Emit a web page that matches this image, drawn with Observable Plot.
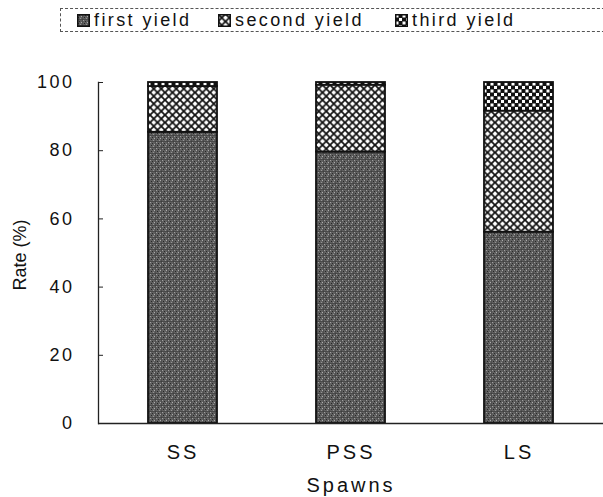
<!DOCTYPE html>
<html>
<head>
<meta charset="utf-8">
<script src="https://cdn.jsdelivr.net/npm/d3@7"></script>
<script src="https://cdn.jsdelivr.net/npm/@observablehq/plot@0.6"></script>
<style>
  html, body { margin: 0; padding: 0; background: #fff; }
  body { width: 603px; height: 497px; overflow: hidden; font-family: "Liberation Sans", Arial, sans-serif; }
  #legend { position: relative; height: 40px; }
  #legend .box { position: absolute; left: 60px; top: 8px; width: 560px; height: 24px; border: 1px dashed #555; box-sizing: border-box; }
  #legend .item { position: absolute; top: 11px; font-size: 18px; letter-spacing: 2.4px; line-height: 18px; color: #111; display: flex; align-items: center; }
  #legend svg { margin-right: 4px; }
  #chart svg text { fill: #111; }
  #chart g[aria-label="x-axis tick label"] text { letter-spacing: 3px; font-size: 20px; }
  #chart g[aria-label="y-axis tick label"] text { letter-spacing: 2.5px; font-size: 18px; }
</style>
</head>
<body>
<div id="legend"></div>
<div id="chart"></div>
<script>
const categories = ["SS", "PSS", "LS"];
const seriesNames = ["first yield", "second yield", "third yield"];
const firstYield = [85.4, 79.6, 56.1];
const secondYield = [13.4, 19.6, 35.5];
const thirdYield = [1.2, 0.8, 8.4];
const yTicks = [0, 20, 40, 60, 80, 100];
const xTitle = "Spawns";
const yTitle = "Rate (%)";

const patternIds = ["pat-first", "pat-second", "pat-third"];
const defsMarkup = `
<pattern id="pat-first" width="6" height="6" patternUnits="userSpaceOnUse">
  <rect width="6" height="6" fill="#606060"/>
  <rect x="0" y="0" width="1" height="1" fill="#a0a0a0"/>
  <rect x="2" y="1" width="1" height="1" fill="#2a2a2a"/>
  <rect x="4" y="2" width="1" height="1" fill="#acacac"/>
  <rect x="1" y="3" width="1" height="1" fill="#262626"/>
  <rect x="3" y="4" width="1" height="1" fill="#949494"/>
  <rect x="5" y="5" width="1" height="1" fill="#333"/>
  <rect x="0" y="5" width="6" height="0.6" fill="#3a3a3a"/>
  <rect x="5" y="0" width="0.6" height="6" fill="#444"/>
</pattern>
<pattern id="pat-second" width="7.5" height="7.5" patternUnits="userSpaceOnUse">
  <rect width="7.5" height="7.5" fill="#fff"/>
  <path d="M-1,-1 L8.5,8.5 M8.5,-1 L-1,8.5" stroke="#111" stroke-width="1.8"/>
</pattern>
<pattern id="pat-third" width="7" height="7" patternUnits="userSpaceOnUse">
  <rect width="7" height="7" fill="#111"/>
  <rect x="0.5" y="0.5" width="3" height="3" fill="#fff"/>
  <rect x="4" y="4" width="3" height="3" fill="#fff"/>
</pattern>`;

const rows = [];
categories.forEach((c, i) => {
  rows.push({spawn: c, series: seriesNames[0], value: firstYield[i]});
  rows.push({spawn: c, series: seriesNames[1], value: secondYield[i]});
  rows.push({spawn: c, series: seriesNames[2], value: thirdYield[i]});
});

// Legend
const legend = document.getElementById("legend");
legend.innerHTML = `<div class="box"></div>`;
const legendX = [77, 218, 395];
seriesNames.forEach((name, i) => {
  const it = document.createElement("div");
  it.className = "item";
  it.style.left = legendX[i] + "px";
  it.innerHTML = `<svg width="13" height="13"><defs>${defsMarkup.replaceAll('id="pat-', 'id="lg' + i + '-pat-')}</defs><rect x="0.75" y="0.75" width="11.5" height="11.5" fill="url(#lg${i}-${patternIds[i]})" stroke="#111" stroke-width="1.5"/></svg><span>${name}</span>`;
  legend.appendChild(it);
});

const chart = Plot.plot({
  width: 603,
  height: 457,
  marginTop: 42,
  marginBottom: 74,
  marginLeft: 98,
  marginRight: 0,
  style: {fontFamily: "Liberation Sans, Arial, sans-serif", fontSize: "18px", color: "#111", background: "#fff"},
  x: {domain: categories, paddingInner: 0.59, paddingOuter: 0.295, label: null},
  y: {domain: [0, 100], label: null},
  color: {domain: seriesNames, range: patternIds.map(id => `url(#${id})`)},
  marks: [
    Plot.barY(rows, {x: "spawn", y: "value", fill: "series", stroke: "#111", strokeWidth: 1.8, order: seriesNames}),
    Plot.ruleY([0], {stroke: "#222", strokeWidth: 1.3}),
    Plot.frame({anchor: "left", stroke: "#222", strokeWidth: 1.3}),
    Plot.axisY({ticks: yTicks, tickSize: 0, tickPadding: 24, label: null}),
    Plot.axisY({ticks: yTicks, tickSize: -5, tickFormat: () => "", label: null, stroke: "#222"}),
    Plot.axisX({tickSize: 0, tickPadding: 21, label: null}),
    Plot.text([xTitle], {frameAnchor: "bottom", lineAnchor: "middle", dy: 62, fontSize: 20}),
    Plot.text([yTitle], {frameAnchor: "left", textAnchor: "middle", lineAnchor: "middle", dx: -78, dy: 2, rotate: -90, fontSize: 18})
  ]
});
const defs = document.createElementNS("http://www.w3.org/2000/svg", "defs");
defs.innerHTML = defsMarkup;
chart.insertBefore(defs, chart.firstChild);
chart.querySelectorAll("text").forEach(t => {
  if (t.textContent === xTitle) t.style.letterSpacing = "3px";
});
document.getElementById("chart").appendChild(chart);
</script>
</body>
</html>
